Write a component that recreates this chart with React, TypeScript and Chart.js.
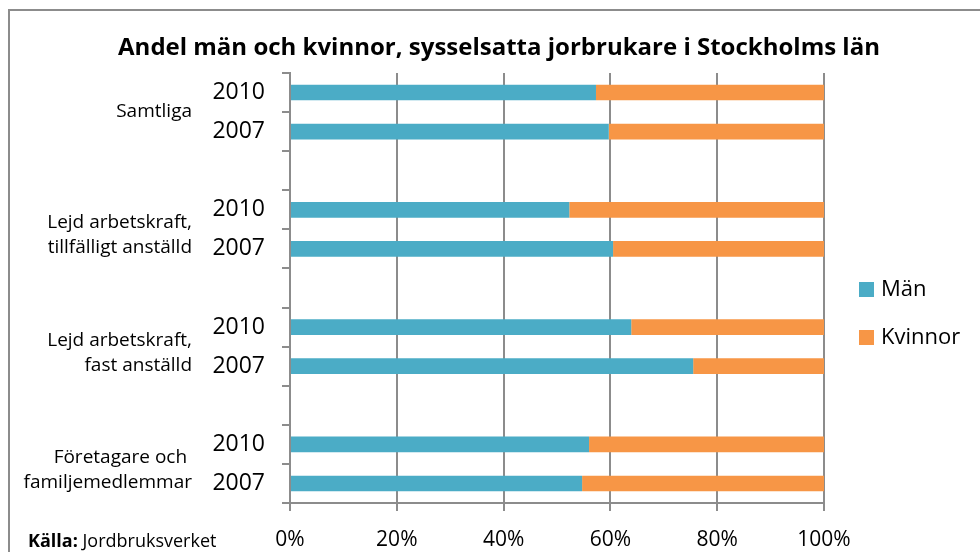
import React, { useEffect, useRef } from "react";
import { Chart, registerables } from "chart.js";

Chart.register(...registerables);

const FONT = "'Open Sans', 'Noto Sans', sans-serif";

const chartTitle = "Andel män och kvinnor, sysselsatta jorbrukare i Stockholms län";
const rowLabels = ["2010", "2007", "", "2010", "2007", "", "2010", "2007", "", "2010", "2007"];
const groupLabels = [
  ["Samtliga"],
  ["Lejd arbetskraft,", "tillfälligt anställd"],
  ["Lejd arbetskraft,", "fast anställd"],
  ["Företagare och ", "familjemedlemmar"],
];
const seriesNames = ["Män", "Kvinnor"];
const manValues = [57.3, 59.7, null, 52.3, 60.5, null, 63.9, 75.5, null, 56.0, 54.7];
const kvinnorValues = [42.7, 40.3, null, 47.7, 39.5, null, 36.1, 24.5, null, 44.0, 45.3];
const seriesColors = ["#4BACC6", "#F79646"];
const xTickStep = 20;
const sourceBold = "Källa:";
const sourceText = " Jordbruksverket";

const GRID = "#8c8c8c";

const overlayPlugin = {
  id: "overlay",
  afterDraw(chart: any) {
    const { ctx, chartArea, scales } = chart;
    const y = scales.y;
    ctx.save();
    ctx.fillStyle = "#000";

    // group (outer category) labels
    ctx.textAlign = "right";
    ctx.textBaseline = "middle";
    ctx.font = `19px ${FONT}`;
    const lh = 25;
    groupLabels.forEach((lines, g) => {
      const mid = (y.getPixelForValue(g * 3) + y.getPixelForValue(g * 3 + 1)) / 2;
      const shift = lines.length > 1 ? 6 : 0;
      lines.forEach((t, i) => {
        ctx.fillText(t, chartArea.left - 98, mid + shift + (i - (lines.length - 1) / 2) * lh);
      });
    });

    // legend
    const cy = (chartArea.top + chartArea.bottom) / 2 + 1.5;
    ctx.textAlign = "left";
    ctx.font = `22px ${FONT}`;
    seriesNames.forEach((name, i) => {
      const rowY = cy + i * 48;
      const bx = chartArea.right + 35;
      ctx.fillStyle = seriesColors[i];
      ctx.fillRect(bx, rowY - 7.5, 15, 15);
      ctx.fillStyle = "#000";
      ctx.fillText(name, bx + 22, rowY);
    });

    // source
    ctx.textBaseline = "alphabetic";
    ctx.font = `bold 18px ${FONT}`;
    ctx.fillText(sourceBold, 18, 536);
    const w = ctx.measureText(sourceBold).width;
    ctx.font = `18px ${FONT}`;
    ctx.fillText(sourceText, 18 + w, 536);
    ctx.restore();
  },
};

export default function App() {
  const canvasRef = useRef<HTMLCanvasElement | null>(null);

  useEffect(() => {
    if (!canvasRef.current) return;
    const chart = new Chart(canvasRef.current, {
      type: "bar",
      data: {
        labels: rowLabels,
        datasets: [
          {
            label: seriesNames[0],
            data: manValues,
            backgroundColor: seriesColors[0],
            barPercentage: 0.4,
            categoryPercentage: 1.0,
          },
          {
            label: seriesNames[1],
            data: kvinnorValues,
            backgroundColor: seriesColors[1],
            barPercentage: 0.4,
            categoryPercentage: 1.0,
          },
        ],
      },
      options: {
        indexAxis: "y",
        animation: false,
        responsive: true,
        maintainAspectRatio: false,
        events: [],
        layout: { padding: { left: 8, right: 0, top: 0, bottom: 0 } },
        plugins: {
          legend: { display: false },
          tooltip: { enabled: false },
          title: {
            display: true,
            text: chartTitle,
            color: "#000",
            font: { family: FONT, size: 24, weight: "bold" },
            padding: { top: 23, bottom: 10.2 },
          },
        },
        scales: {
          x: {
            stacked: true,
            min: 0,
            max: 100,
            ticks: {
              stepSize: xTickStep,
              callback: (v: any) => `${v}%`,
              color: "#000",
              font: { family: FONT, size: 21 },
              padding: 16,
              maxRotation: 0,
            },
            grid: { color: GRID, lineWidth: 2, tickLength: 8, drawTicks: true },
            border: { color: GRID, width: 2 },
            afterFit: (s: any) => {
              s.height = 49;
              s.paddingRight = 156;
            },
          },
          y: {
            stacked: true,
            ticks: {
              color: "#000",
              font: { family: FONT, size: 23 },
              padding: 17,
              autoSkip: false,
            },
            grid: {
              drawOnChartArea: false,
              drawTicks: true,
              tickLength: 8,
              color: GRID,
              lineWidth: 2,
              offset: true,
            },
            border: { color: GRID, width: 2 },
            afterFit: (s: any) => {
              s.width = 272;
            },
          },
        },
      },
      plugins: [overlayPlugin],
    });
    return () => chart.destroy();
  }, []);

  return (
    <div
      style={{
        position: "absolute",
        left: 8,
        top: 9,
        width: 972,
        height: 543,
        boxSizing: "border-box",
        borderTop: `2px solid ${GRID}`,
        borderLeft: `2px solid ${GRID}`,
        background: "#fff",
      }}
    >
      <div style={{ position: "relative", width: "100%", height: "100%" }}>
        <canvas ref={canvasRef} />
      </div>
    </div>
  );
}
